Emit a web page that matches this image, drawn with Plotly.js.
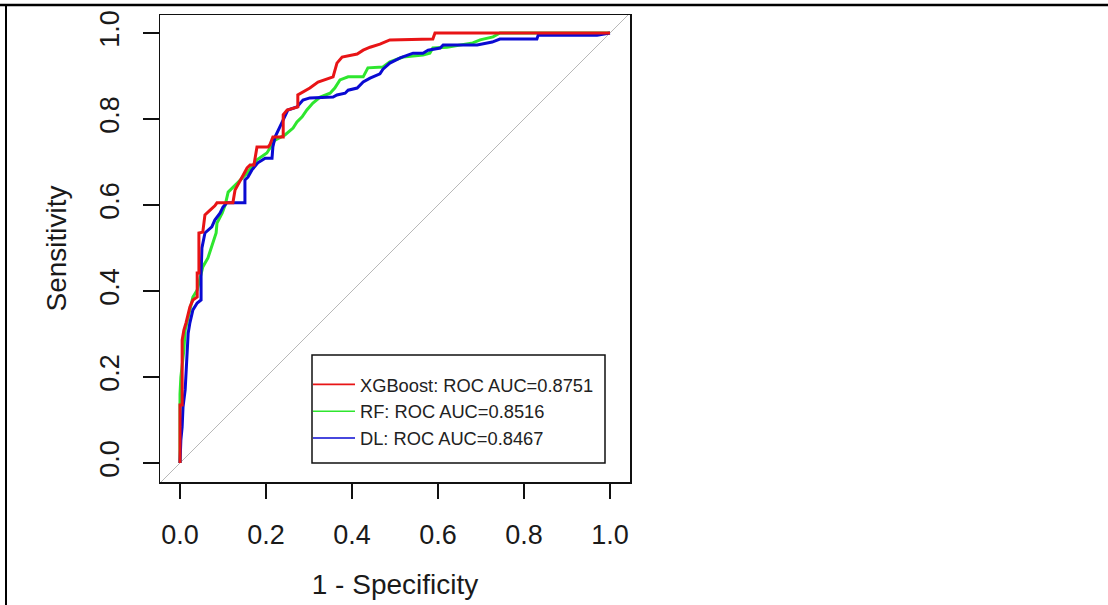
<!DOCTYPE html>
<html>
<head>
<meta charset="utf-8">
<script src="https://cdn.plot.ly/plotly-3.0.1.min.js"></script>
<style>
  html, body { margin: 0; padding: 0; background: #ffffff; }
  #chart { width: 1108px; height: 605px; }
</style>
</head>
<body>
<div id="chart"></div>
<script>
// ---- Data ----
const seriesNames = ["XGBoost: ROC AUC=0.8751", "RF: ROC AUC=0.8516", "DL: ROC AUC=0.8467"];
const seriesColors = ["#e81416", "#2ee62e", "#0a0ad2"];

// XGBoost (red): 1 - specificity, sensitivity
const xgbFpr = [0, 0, 0.005, 0.005, 0.009, 0.014, 0.023, 0.030, 0.040, 0.040, 0.044, 0.044, 0.053, 0.058, 0.070, 0.081, 0.086, 0.123, 0.128, 0.140, 0.156, 0.163, 0.172, 0.179, 0.205, 0.209, 0.216, 0.240, 0.240, 0.249, 0.274, 0.274, 0.302, 0.321, 0.344, 0.356, 0.365, 0.377, 0.412, 0.426, 0.442, 0.465, 0.488, 0.588, 0.593, 1.0];
const xgbTpr = [0, 0.135, 0.135, 0.286, 0.309, 0.326, 0.363, 0.379, 0.386, 0.442, 0.442, 0.535, 0.537, 0.577, 0.588, 0.598, 0.605, 0.605, 0.635, 0.658, 0.686, 0.693, 0.693, 0.735, 0.735, 0.740, 0.758, 0.758, 0.810, 0.821, 0.828, 0.856, 0.872, 0.886, 0.895, 0.898, 0.930, 0.944, 0.951, 0.960, 0.967, 0.974, 0.984, 0.986, 1.0, 1.0];

// RF (green)
const rfFpr = [0, 0, 0.002, 0.009, 0.012, 0.019, 0.030, 0.040, 0.047, 0.053, 0.065, 0.077, 0.084, 0.086, 0.098, 0.105, 0.112, 0.135, 0.156, 0.179, 0.202, 0.221, 0.244, 0.263, 0.272, 0.284, 0.295, 0.309, 0.326, 0.349, 0.360, 0.372, 0.391, 0.426, 0.437, 0.472, 0.488, 0.519, 0.565, 0.581, 0.588, 0.621, 0.681, 0.698, 0.728, 0.744, 1.0];
const rfTpr = [0, 0.160, 0.200, 0.263, 0.309, 0.337, 0.386, 0.402, 0.433, 0.456, 0.477, 0.512, 0.535, 0.558, 0.581, 0.600, 0.630, 0.653, 0.674, 0.705, 0.721, 0.751, 0.763, 0.779, 0.793, 0.805, 0.821, 0.837, 0.851, 0.860, 0.872, 0.891, 0.898, 0.898, 0.919, 0.921, 0.933, 0.944, 0.949, 0.953, 0.965, 0.967, 0.977, 0.984, 0.991, 1.0, 1.0];

// DL (blue)
const dlFpr = [0, 0.002, 0.005, 0.007, 0.012, 0.016, 0.019, 0.023, 0.030, 0.040, 0.049, 0.049, 0.051, 0.058, 0.074, 0.081, 0.093, 0.100, 0.109, 0.151, 0.151, 0.158, 0.167, 0.181, 0.198, 0.214, 0.216, 0.221, 0.233, 0.240, 0.251, 0.272, 0.286, 0.302, 0.356, 0.365, 0.384, 0.391, 0.412, 0.426, 0.442, 0.465, 0.472, 0.488, 0.512, 0.542, 0.565, 0.577, 0.605, 0.612, 0.691, 0.726, 0.744, 0.830, 0.833, 0.970, 1.0];
const dlTpr = [0, 0.053, 0.084, 0.130, 0.170, 0.240, 0.302, 0.326, 0.356, 0.372, 0.379, 0.440, 0.500, 0.535, 0.549, 0.565, 0.581, 0.595, 0.605, 0.605, 0.658, 0.665, 0.681, 0.698, 0.709, 0.709, 0.735, 0.758, 0.781, 0.798, 0.821, 0.828, 0.844, 0.849, 0.851, 0.856, 0.860, 0.867, 0.872, 0.886, 0.895, 0.905, 0.916, 0.930, 0.942, 0.953, 0.953, 0.960, 0.965, 0.972, 0.972, 0.979, 0.986, 0.986, 0.995, 0.995, 1.0];

// Reference diagonal (chance line) spans the whole box
const diagonal = [-0.1, 1.1];

// Tick labels
const tickValues = [0, 0.2, 0.4, 0.6, 0.8, 1.0];
const tickLabels = ["0.0", "0.2", "0.4", "0.6", "0.8", "1.0"];

// ---- Plot ----
const FONT = "Liberation Sans, Arial, Helvetica, sans-serif";
const fprs = [xgbFpr, rfFpr, dlFpr];
const tprs = [xgbTpr, rfTpr, dlTpr];
const drawOrder = [1, 2, 0]; // green, blue, red on top

const traces = [{
  x: diagonal, y: diagonal, mode: "lines", type: "scatter",
  line: { color: "#b8b8b8", width: 1 }, showlegend: false, hoverinfo: "skip"
}];
drawOrder.forEach(i => {
  traces.push({
    x: fprs[i], y: tprs[i], mode: "lines", type: "scatter",
    line: { color: seriesColors[i], width: 3 }, showlegend: false, name: seriesNames[i]
  });
});
// legend entries (thin lines, as in the reference legend)
seriesNames.forEach((nm, i) => {
  traces.push({
    x: [null], y: [null], mode: "lines", type: "scatter", name: nm,
    line: { color: seriesColors[i], width: 1.6 }, legendrank: i + 1, legendgroup: "g" + i,
    showlegend: true
  });
});

const W = 1108, H = 605;
const L = 160, R = 630, T = 15, B = 482;
const px2paperX = p => (p - L) / (R - L);
const px2paperY = p => (B - p) / (B - T);

const layout = {
  width: W, height: H,
  margin: { l: L, r: W - R, t: T, b: H - B, pad: 0 },
  paper_bgcolor: "#ffffff", plot_bgcolor: "#ffffff",
  font: { family: FONT, color: "#1a1a1a" },
  showlegend: true,
  legend: {
    x: px2paperX(308), y: px2paperY(366), xanchor: "left", yanchor: "top",
    borderwidth: 0, bgcolor: "rgba(0,0,0,0)",
    font: { family: FONT, size: 18.3, color: "#222222" },
    tracegroupgap: 0, itemwidth: 42
  },
  xaxis: {
    range: [-20 / 430, 450 / 430], tickvals: tickValues, ticktext: tickLabels,
    ticks: "outside", ticklen: 15, tickwidth: 1.5, tickcolor: "#111111",
    showline: true, mirror: true, linecolor: "#111111", linewidth: 1.5,
    showgrid: false, zeroline: false,
    tickfont: { family: FONT, size: 27, color: "#1a1a1a" },
    ticklabelstandoff: 13,
    title: { text: "1 - Specificity", font: { family: FONT, size: 28, color: "#1a1a1a" }, standoff: 25 }
  },
  yaxis: {
    range: [-19 / 430, 448 / 430], tickvals: tickValues, ticktext: tickLabels,
    ticks: "outside", ticklen: 16, tickwidth: 1.5, tickcolor: "#111111",
    showline: true, mirror: true, linecolor: "#111111", linewidth: 1.5,
    showgrid: false, zeroline: false, tickangle: -90,
    tickfont: { family: FONT, size: 27, color: "#1a1a1a" },
    ticklabelstandoff: 13,
    title: { text: "Sensitivity", font: { family: FONT, size: 28, color: "#1a1a1a" }, standoff: 20 }
  },
  shapes: [
    { type: "line", xref: "paper", yref: "paper", x0: px2paperX(0), x1: px2paperX(W), y0: px2paperY(5), y1: px2paperY(5), line: { color: "#000000", width: 2.5 } },
    { type: "line", xref: "paper", yref: "paper", x0: px2paperX(6), x1: px2paperX(6), y0: px2paperY(4), y1: px2paperY(H), line: { color: "#000000", width: 2 } },
    // legend frame
    { type: "rect", xref: "paper", yref: "paper", x0: px2paperX(312), x1: px2paperX(605), y0: px2paperY(355), y1: px2paperY(463), line: { color: "#111111", width: 1.5 }, fillcolor: "rgba(0,0,0,0)", layer: "above" }
  ]
};

Plotly.newPlot("chart", traces, layout, { displayModeBar: false, staticPlot: true });
</script>
</body>
</html>
